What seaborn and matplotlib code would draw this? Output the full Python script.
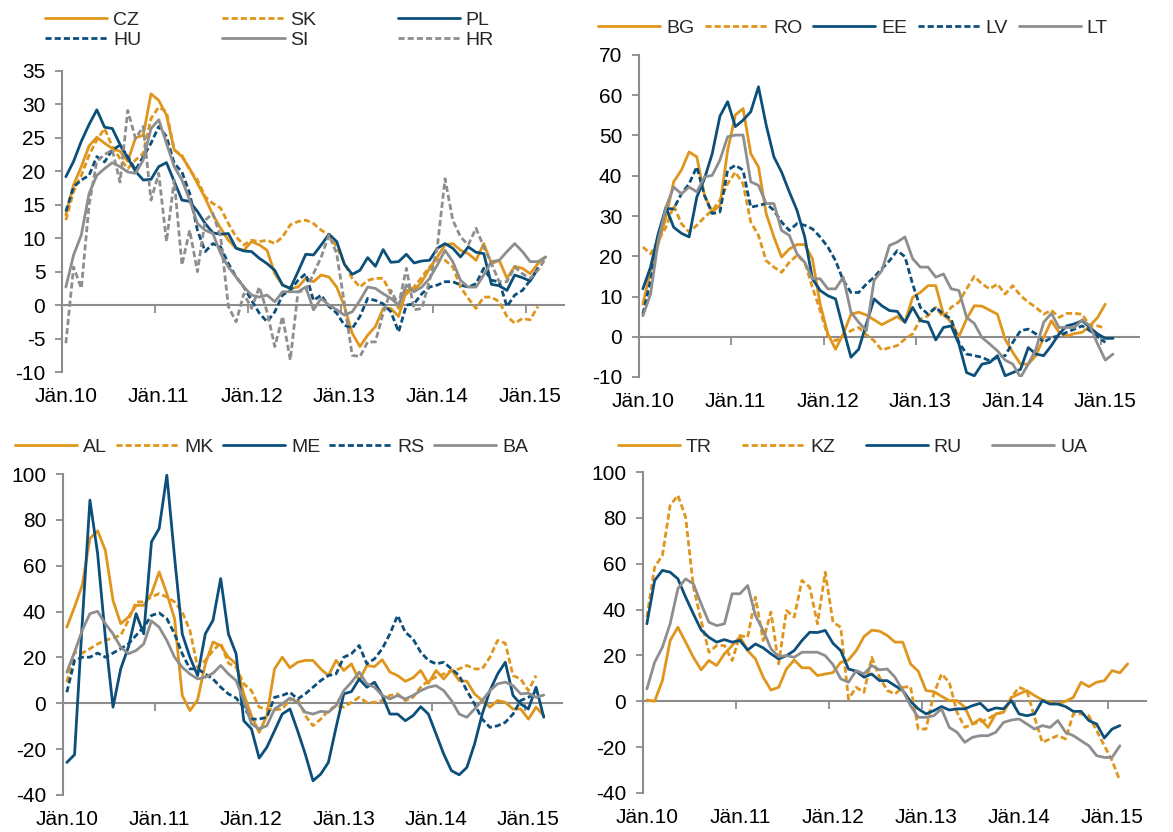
import numpy as np
import pandas as pd
import matplotlib
matplotlib.use("Agg")
import matplotlib.pyplot as plt
import seaborn as sns

nan = np.nan

# ---------------- data (monthly, Jan 2010 .. Mar 2015) ----------------
xtick_labels = ["Jän.10", "Jän.11", "Jän.12", "Jän.13", "Jän.14", "Jän.15"]

# Panel 1
CZ = [13.5, 18.0, 20.7, 23.8, 25.1, 24.2, 23.4, 23.0, 21.5, 25.0, 25.4, 31.6,
      30.6, 28.4, 23.2, 22.2, 20.4, 18.2, 16.0, 13.5, 11.5, 9.7, 8.5, 8.2,
      9.5, 9.0, 8.2, 4.7, 3.0, 2.5, 2.7, 4.0, 3.5, 4.5, 4.2, 2.7,
      -0.2, -4.2, -6.2, -4.5, -3.2, -0.5, -0.5, -1.7, 2.2, 2.2, 3.5, 5.5,
      7.2, 9.0, 9.2, 8.2, 7.7, 6.7, 9.2, 6.2, 6.7, 4.0, 5.8, 5.5,
      4.7, 6.2, 7.2]
SK = [12.7, 17.0, 19.4, 22.4, 24.7, 26.4, 23.7, 21.9, 20.4, 21.7, 22.7, 27.9,
      29.6, 28.9, 23.2, 22.4, 20.2, 18.7, 16.2, 15.2, 14.5, 12.2, 10.2, 9.0,
      9.7, 9.5, 9.7, 9.2, 10.2, 12.0, 12.5, 12.7, 12.2, 11.2, 10.5, 8.7,
      6.2, 4.0, 2.7, 3.7, 4.0, 4.0, 1.7, -0.5, 1.7, 2.7, 4.2, 5.7,
      6.8, 6.7, 5.7, 2.7, 1.0, -0.5, 1.2, 1.2, 0.5, -1.7, -2.7, -2.0,
      -2.2, -0.2, nan]
PL = [19.2, 21.5, 24.5, 27.0, 29.2, 26.6, 26.4, 24.0, 22.0, 20.0, 18.7, 18.8,
      20.7, 21.3, 18.5, 15.7, 15.5, 14.0, 12.2, 10.8, 10.6, 10.7, 8.5, 8.1,
      8.0, 7.0, 6.2, 5.2, 3.0, 2.5, 5.0, 7.6, 7.5, 9.0, 10.6, 9.5,
      6.1, 4.6, 5.2, 7.1, 5.8, 8.3, 6.4, 6.5, 7.6, 6.3, 6.6, 6.7,
      8.5, 9.2, 8.5, 7.2, 8.7, 7.9, 7.7, 3.1, 2.9, 2.2, 4.5, 4.1,
      3.6, 5.5, nan]
HU = [14.0, 17.7, 18.7, 19.4, 22.2, 21.4, 23.2, 23.9, 22.2, 20.2, 22.2, 24.2,
      26.7, 25.2, 21.2, 19.9, 16.7, 11.2, 8.0, 9.2, 8.7, 6.2, 4.2, 2.7,
      0.7, -1.2, -2.5, -1.0, 1.5, 2.2, 3.7, 4.7, 0.7, 1.5, -0.2, -1.2,
      -3.0, -3.5, -1.7, 1.0, 0.7, 0.2, -1.0, -4.0, 0.0, 0.2, 1.7, 2.7,
      3.0, 3.5, 3.5, 3.0, 2.7, 3.2, 5.5, 3.7, 3.5, -0.2, 1.5, 2.2,
      3.7, 5.5, nan]
SI = [2.7, 7.5, 10.5, 16.7, 19.4, 20.4, 21.3, 20.7, 19.9, 19.7, 21.7, 26.4,
      27.7, 24.2, 20.7, 18.7, 15.7, 12.2, 11.2, 10.7, 7.7, 5.7, 4.2, 2.7,
      1.5, 1.2, 1.5, 0.5, 2.0, 2.0, 2.0, 2.7, -0.7, 1.0, 0.0, -0.7,
      -1.5, -1.0, 0.7, 2.7, 2.5, 1.7, 1.0, 0.0, 3.0, 2.0, 2.7, 4.0,
      6.0, 8.2, 6.5, 3.7, 2.7, 2.7, 4.5, 6.5, 6.7, 8.0, 9.2, 8.0,
      6.5, 6.5, 7.2]
HR = [-5.7, 5.7, 2.5, 15.0, 21.5, 22.5, 23.2, 18.4, 29.1, 24.9, 26.7, 15.7,
      19.7, 9.5, 18.7, 6.0, 11.2, 5.0, 12.7, 13.7, 10.2, -0.2, -2.5, 1.7,
      -0.5, 2.7, -1.0, -6.2, -1.7, -8.2, 2.0, 2.2, 4.7, 7.2, 10.5, 7.7,
      0.2, -7.5, -7.7, -5.5, -5.5, -1.2, 2.2, 0.0, 5.5, -0.7, -0.5, 3.7,
      8.7, 18.9, 12.7, 10.2, 9.0, 11.5, 8.7, 6.2, 3.5, 3.5, 5.7, 4.7,
      4.0, 5.2, 7.0]

# Panel 2
BG = [8.1, 16.4, 23.1, 29.7, 38.5, 41.4, 45.9, 44.7, 35.1, 31.0, 32.6, 46.3,
      55.1, 56.7, 45.5, 42.2, 30.6, 24.8, 19.8, 21.8, 22.9, 22.9, 19.4, 8.1,
      0.7, -3.1, 0.7, 5.6, 6.1, 5.4, 4.2, 3.0, 4.0, 5.0, 3.6, 9.8,
      11.0, 12.7, 12.7, 5.6, 3.6, 0.0, 4.4, 7.7, 7.6, 6.6, 5.6, -0.6,
      -3.9, -6.8, -6.8, -4.7, -0.2, 4.0, 1.1, 0.2, 0.8, 1.1, 2.7, 4.8,
      8.1, nan, nan]
RO = [22.3, 20.6, 23.9, 27.2, 32.6, 28.1, 26.0, 27.7, 29.7, 31.4, 33.9, 38.0,
      40.9, 38.0, 28.5, 25.2, 18.9, 17.3, 16.0, 18.5, 20.2, 18.5, 12.3, 6.5,
      0.2, -1.0, 0.2, 1.5, 2.3, 0.5, -1.0, -3.3, -2.7, -2.2, -0.6, 0.7,
      4.4, 5.2, 7.3, 4.8, 7.3, 8.6, 11.9, 15.0, 13.1, 11.9, 13.1, 10.6,
      12.7, 10.2, 8.6, 7.3, 5.6, 6.6, 4.8, 5.8, 5.8, 5.6, 2.7, 2.7,
      2.1, nan, nan]
EE = [11.9, 17.3, 25.6, 32.2, 27.2, 25.7, 24.8, 34.7, 39.3, 45.5, 54.8, 58.4,
      52.2, 53.8, 55.9, 62.1, 52.6, 44.7, 40.9, 36.0, 31.4, 24.8, 14.4, 11.5,
      10.2, 9.4, 2.0, -5.1, -3.1, 3.2, 9.4, 7.7, 6.5, 6.3, 3.6, 7.3,
      4.0, 3.6, -0.8, 2.3, 2.7, -1.8, -8.9, -9.7, -6.8, -6.4, -4.7, -9.7,
      -8.9, -8.1, -2.7, -4.3, -4.7, -2.2, 0.7, 2.7, 3.2, 4.0, 2.3, 0.7,
      -0.4, -0.4, nan]
LV = [5.6, 14.0, 24.8, 31.8, 31.8, 35.5, 38.0, 42.2, 35.1, 30.6, 31.0, 41.4,
      42.6, 41.4, 32.2, 32.6, 33.1, 31.4, 28.5, 26.4, 28.1, 27.7, 26.8, 24.8,
      22.3, 18.9, 14.0, 11.0, 11.0, 13.1, 14.8, 16.9, 18.9, 21.4, 19.9, 13.1,
      7.3, 5.6, 7.3, 5.6, 4.4, -1.4, -4.3, -4.7, -5.1, -6.0, -5.1, -4.7,
      -1.4, 1.5, 1.9, 0.7, -1.4, -0.2, 0.2, 1.1, 1.9, 2.7, 1.5, 0.0,
      -1.4, nan, nan]
LT = [5.2, 10.6, 23.9, 32.2, 37.2, 35.5, 37.2, 36.0, 39.7, 40.1, 43.9, 49.7,
      50.1, 50.1, 38.5, 37.6, 33.1, 33.1, 26.4, 25.2, 20.6, 18.5, 14.4, 14.4,
      11.9, 11.9, 14.8, 6.1, 3.6, 1.5, 14.0, 16.4, 22.7, 23.5, 24.8, 19.4,
      17.3, 17.3, 14.8, 15.6, 11.9, 11.5, 4.8, 3.3, -0.2, -1.8, -3.5, -5.8,
      -6.8, -10.1, -6.8, -3.1, 3.6, 5.8, 2.3, 2.3, 2.3, 4.2, 2.7, -1.8,
      -5.8, -4.3, nan]

# Panel 3
AL = [33.2, 42.0, 51.5, 71.9, 75.2, 66.8, 44.9, 34.7, 37.6, 42.7, 42.7, 47.8,
      57.3, 47.8, 36.9, 3.4, -3.2, 1.5, 17.2, 26.7, 25.2, 20.1, 17.2, 4.1,
      -5.4, -12.7, -5.4, 15.0, 20.1, 15.5, 17.9, 18.7, 18.7, 15.0, 12.1, 18.7,
      14.3, 17.2, 9.9, 16.5, 16.0, 19.0, 13.6, 12.1, 9.6, 11.1, 14.3, 8.7,
      14.3, 10.6, 14.6, 9.9, 9.6, 4.1, 1.2, -1.7, 1.2, 0.4, -2.5, -2.5,
      -6.9, -1.7, -5.4]
MK = [9.2, 22.3, 21.9, 23.8, 25.9, 27.4, 28.6, 29.6, 36.2, 44.2, 44.2, 46.4,
      47.8, 46.4, 44.2, 39.8, 31.8, 15.7, 18.7, 23.0, 26.2, 17.5, 15.7, 8.5,
      5.5, -1.7, -2.5, -2.9, -2.5, 1.5, 2.0, -5.4, -9.8, -6.9, -3.2, -1.0,
      -1.7, 0.4, 2.6, 0.4, 0.4, 1.2, 3.4, 4.1, 1.2, 2.6, 7.0, 9.9,
      11.4, 12.8, 14.3, 15.0, 16.5, 15.0, 15.0, 20.1, 27.4, 26.2, 12.1, 10.6,
      5.5, 12.1, nan]
ME = [-25.8, -22.4, 35.0, 88.6, 65.3, 28.9, -1.7, 15.0, 24.5, 39.1, 30.3, 70.4,
      76.2, 99.5, 63.8, 30.3, 20.1, 12.1, 30.3, 36.2, 54.4, 30.3, 21.6, -7.6,
      -11.2, -23.9, -19.2, -12.0, -4.7, -2.5, -12.0, -22.2, -33.8, -30.9, -25.8, -10.5,
      4.1, 5.1, 10.6, 7.0, 9.2, 3.4, -4.7, -4.7, -7.6, -5.4, -1.5, -4.7,
      -13.4, -22.2, -29.4, -31.2, -28.0, -17.8, -4.7, 5.5, 12.8, 17.9, 3.4, -0.3,
      -2.5, 7.0, -6.1]
RS = [4.8, 18.7, 20.1, 20.1, 21.9, 20.1, 21.9, 23.8, 25.9, 29.6, 33.2, 38.3,
      39.4, 36.9, 30.3, 21.6, 15.0, 15.0, 12.8, 10.6, 7.0, 4.1, 2.3, -1.7,
      -6.9, -6.9, -6.1, 2.6, 3.4, 4.8, 1.9, 4.1, 7.0, 9.9, 12.1, 12.8,
      20.1, 21.6, 25.2, 17.2, 19.4, 23.8, 30.3, 38.3, 31.0, 28.1, 22.3, 18.7,
      17.2, 17.9, 15.0, 12.1, 5.5, -0.3, -6.9, -10.5, -9.8, -8.3, -4.7, 1.2,
      2.6, 5.0, nan]
BA = [13.6, 22.3, 31.8, 39.1, 40.1, 34.7, 30.3, 24.5, 21.6, 23.0, 25.9, 35.9,
      33.2, 27.4, 20.1, 15.7, 12.8, 10.6, 11.4, 13.1, 16.5, 12.8, 9.9, 1.2,
      -9.0, -11.2, -9.8, -2.5, -0.3, 2.3, 0.4, -3.9, -4.7, -3.5, -3.9, -1.0,
      5.5, 9.2, 13.6, 8.5, 7.0, 3.4, 1.9, 3.4, 1.9, 3.4, 5.5, 7.0,
      7.7, 5.5, 1.2, -4.7, -6.1, -2.5, 1.2, 5.5, 8.5, 9.2, 7.7, 4.1,
      4.4, 2.6, 3.6]

# Panel 4
TR = [0.6, 0.0, 9.0, 26.5, 32.3, 25.8, 19.2, 13.7, 17.8, 15.6, 20.7, 24.3,
      28.2, 22.1, 18.5, 10.5, 4.9, 6.1, 14.1, 18.0, 14.6, 14.6, 11.2, 11.9,
      12.5, 17.0, 18.0, 22.1, 28.2, 31.0, 30.6, 28.7, 25.8, 25.8, 16.3, 13.1,
      4.7, 4.2, 2.2, 0.3, 0.3, -2.6, -9.9, -7.7, -11.4, -5.5, -4.8, 1.7,
      3.2, 4.7, 2.5, 0.6, -0.4, -1.2, 0.0, 1.7, 8.3, 6.4, 8.3, 9.0,
      13.4, 12.4, 16.3]
KZ = [36.7, 58.5, 63.6, 85.4, 89.8, 80.3, 49.8, 35.2, 21.4, 24.3, 24.3, 17.8,
      28.7, 27.9, 45.4, 26.5, 38.9, 16.3, 39.6, 36.7, 52.7, 49.8, 33.8, 56.3,
      34.5, 32.3, 1.0, 6.1, 3.9, 19.2, 10.5, 4.7, 3.2, 6.1, 6.4, -12.1,
      -12.1, 3.2, 11.9, 8.3, -4.8, -11.4, -9.9, -9.0, -7.7, -5.5, -4.8, 1.7,
      6.1, 4.7, -7.0, -17.9, -16.4, -15.0, -16.4, -5.5, -5.5, -6.3, -12.8, -19.4,
      -25.9, -34.6, nan]
RU = [33.8, 52.7, 57.1, 56.3, 53.4, 45.4, 38.1, 31.1, 27.9, 25.8, 26.9, 25.8,
      26.5, 22.4, 25.0, 23.3, 20.7, 18.5, 19.9, 22.1, 26.5, 30.1, 30.0, 30.9,
      25.3, 22.1, 14.1, 13.1, 10.5, 11.9, 9.0, 9.0, 6.8, 4.7, 0.0, -3.3,
      -5.5, -4.1, -2.3, -3.8, -3.3, -3.3, -1.9, -0.9, -4.1, -2.9, -3.3, 0.3,
      -5.5, -6.3, -5.5, 0.3, -1.2, -1.2, -2.3, -4.4, -4.4, -8.4, -9.9, -16.0,
      -12.1, -10.6, nan]
UA = [5.4, 17.0, 23.6, 33.8, 49.1, 53.4, 51.2, 42.5, 34.5, 33.0, 33.8, 46.9,
      46.9, 50.5, 37.4, 30.9, 22.9, 19.5, 19.9, 19.2, 21.4, 21.4, 21.4, 19.9,
      16.0, 9.8, 8.3, 13.4, 11.9, 15.6, 13.7, 14.1, 10.5, 4.7, -1.9, -7.0,
      -7.0, -6.3, -3.3, -11.4, -13.5, -17.9, -15.7, -15.0, -15.0, -13.5, -9.2, -8.2,
      -7.7, -9.9, -12.1, -10.6, -11.4, -8.4, -13.5, -15.0, -17.2, -19.4, -23.7, -24.5,
      -24.5, -19.4, nan]

# ---------------- styling ----------------
ORANGE = "#E0951C"
BLUE = "#0C4F7B"
GRAY = "#8E8E8E"
AXIS = "#8C8C8C"
SOLID = ""
DASH = (2.2, 1.1)
W, H = 1173, 832

sns.set_theme(style="white")
plt.rcParams["font.family"] = ["Liberation Sans", "DejaVu Sans"]

panels = [
    dict(names=["CZ", "SK", "PL", "HU", "SI", "HR"], series=[CZ, SK, PL, HU, SI, HR],
         colors=[ORANGE, ORANGE, BLUE, BLUE, GRAY, GRAY],
         dashed=[False, True, False, True, False, True],
         ylim=(-10, 35), step=5, rect=(62, 71, 565, 372),
         leg=(45, 6, 494, 54), ncol=3, order=[0, 3, 1, 4, 2, 5]),
    dict(names=["BG", "RO", "EE", "LV", "LT"], series=[BG, RO, EE, LV, LT],
         colors=[ORANGE, ORANGE, BLUE, BLUE, GRAY],
         dashed=[False, True, False, True, False],
         ylim=(-10, 70), step=10, rect=(639, 55, 1140, 377),
         leg=(598, 16, 1108, 40), ncol=5, order=[0, 1, 2, 3, 4]),
    dict(names=["AL", "MK", "ME", "RS", "BA"], series=[AL, MK, ME, RS, BA],
         colors=[ORANGE, ORANGE, BLUE, BLUE, GRAY],
         dashed=[False, True, False, True, False],
         ylim=(-40, 100), step=20, rect=(63, 474, 563, 795),
         leg=(15, 435, 528, 459), ncol=5, order=[0, 1, 2, 3, 4]),
    dict(names=["TR", "KZ", "RU", "UA"], series=[TR, KZ, RU, UA],
         colors=[ORANGE, ORANGE, BLUE, GRAY],
         dashed=[False, True, False, False],
         ylim=(-40, 100), step=20, rect=(643, 472, 1147, 793),
         leg=(618, 435, 1087, 459), ncol=4, order=[0, 1, 2, 3]),
]

fig = plt.figure(figsize=(W / 100, H / 100), dpi=100)
fig.patch.set_facecolor("white")

n_months = len(CZ)
month_idx = np.arange(n_months)
year_starts = [12 * k for k in range(len(xtick_labels))]
year_bounds = [12 * k - 0.5 for k in range(1, len(xtick_labels))]

for p in panels:
    x0, y0, x1, y1 = p["rect"]
    ax = fig.add_axes([x0 / W, (H - y1) / H, (x1 - x0) / W, (y1 - y0) / H])
    frames = []
    for name, vals in zip(p["names"], p["series"]):
        frames.append(pd.DataFrame({"month": month_idx, "value": vals, "country": name}))
    df = pd.concat(frames, ignore_index=True)
    palette = dict(zip(p["names"], p["colors"]))
    dashes = {n: (DASH if d else SOLID) for n, d in zip(p["names"], p["dashed"])}
    sns.lineplot(data=df, x="month", y="value", hue="country", style="country",
                 hue_order=p["names"], style_order=p["names"],
                 palette=palette, dashes=dashes, linewidth=2.0, ax=ax,
                 legend=True, sort=False)
    handles, labels = ax.get_legend_handles_labels()
    ax.get_legend().remove()

    ax.axhline(0, color=AXIS, lw=1.5, zorder=1)
    ax.plot(year_bounds, np.zeros(len(year_bounds)), ls="none", marker=3, ms=6,
            mew=1.3, color=AXIS, zorder=1)

    ax.set_xlim(-0.5, 64.5)
    ax.set_ylim(*p["ylim"])
    ax.set_yticks(np.arange(p["ylim"][0], p["ylim"][1] + 0.1, p["step"]))
    ax.set_yticklabels([f"{int(v)}" for v in ax.get_yticks()])
    ax.set_xticks(year_starts)
    ax.set_xticklabels(xtick_labels)
    ax.set_xlabel("")
    ax.set_ylabel("")
    for s in ["top", "right", "bottom"]:
        ax.spines[s].set_visible(False)
    ax.spines["left"].set_color(AXIS)
    ax.spines["left"].set_linewidth(1.5)
    ax.tick_params(axis="y", length=5, width=1.3, color=AXIS, direction="out",
                   labelsize=15, pad=7, left=True, labelcolor="black")
    ax.tick_params(axis="x", length=0, labelsize=15, pad=11, labelcolor="black")
    ax.grid(False)
    ax.set_facecolor("white")

    lx0, ly0, lx1, ly1 = p["leg"]
    hs = [handles[i] for i in p["order"]]
    ls = [labels[i] for i in p["order"]]
    leg = fig.legend(hs, ls, loc="center", ncol=p["ncol"], mode="expand",
                     bbox_to_anchor=(lx0 / W, (H - ly1) / H, (lx1 - lx0) / W, (ly1 - ly0) / H),
                     frameon=False, fontsize=14, handlelength=3.2,
                     handletextpad=0.3, borderpad=0, borderaxespad=0,
                     labelspacing=0.15, columnspacing=1.0)
    for h in leg.legend_handles:
        h.set_linewidth(2.0)

fig.savefig("out.png", dpi=100, facecolor="white")
